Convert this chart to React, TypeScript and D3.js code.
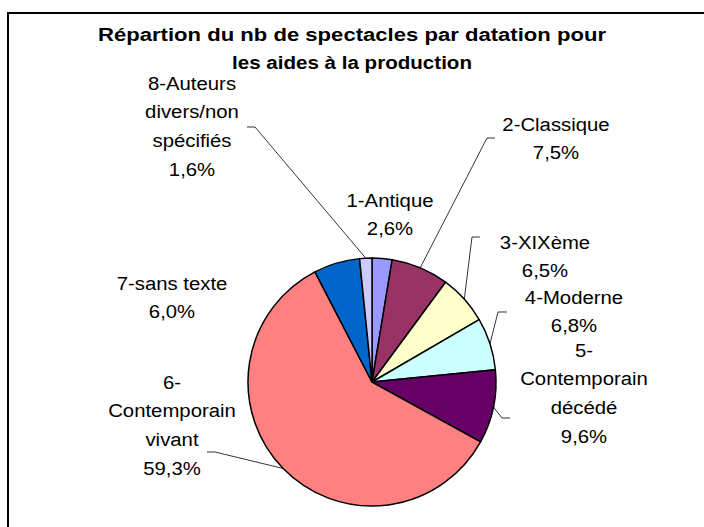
import React, { useEffect, useRef } from 'react';
import * as d3 from 'd3';

// data
const categories = [
  '1-Antique',
  '2-Classique',
  '3-XIXème',
  '4-Moderne',
  '5-Contemporain décédé',
  '6-Contemporain vivant',
  '7-sans texte',
  '8-Auteurs divers/non spécifiés',
];
const shares = [2.6, 7.5, 6.5, 6.8, 9.6, 59.3, 6.0, 1.6];
const labelLines = [
  ['1-Antique'],
  ['2-Classique'],
  ['3-XIXème'],
  ['4-Moderne'],
  ['5-', 'Contemporain', 'décédé'],
  ['6-', 'Contemporain', 'vivant'],
  ['7-sans texte'],
  ['8-Auteurs', 'divers/non', 'spécifiés'],
];
const colors = ['#9999FF', '#993366', '#FFFFCC', '#CCFFFF', '#660066', '#FF8080', '#0066CC', '#CCCCFF'];
const titleLines = ['Répartion du nb de spectacles par datation pour', 'les aides à la production'];

// label layout: centre x, centre y of first line, leader start/elbow (null = no leader)
const labelLayout = [
  { x: 390, y: 200, leader: null },
  { x: 556, y: 124, leader: [[495, 138], [487, 138]] },
  { x: 545, y: 242, leader: [[480, 237], [472, 237]] },
  { x: 574, y: 297, leader: [[507, 312], [498, 312]] },
  { x: 584, y: 350, leader: [[510, 418], [502, 418]] },
  { x: 172, y: 382, leader: [[207, 452], [215, 452]] },
  { x: 172, y: 283, leader: null },
  { x: 192, y: 83, leader: [[247, 127], [255, 127]] },
];

const W = 704;
const H = 527;
const cx = 372;
const cy = 382;
const R = 124;
const lineH = 28.7;
const fmt = (v: number) => v.toFixed(1).replace('.', ',') + '%';

const App = () => {
  const svgRef = useRef<SVGSVGElement>(null);

  useEffect(() => {
    const svg = d3.select(svgRef.current);
    svg.selectAll('*').remove();

    svg.append('rect').attr('width', W).attr('height', H).attr('fill', '#fff');
    svg.append('rect')
      .attr('x', 8).attr('y', 13)
      .attr('width', 740).attr('height', 560)
      .attr('fill', 'none')
      .attr('stroke', '#000')
      .attr('stroke-width', 2);

    // title
    const titleW = [508, 240];
    titleLines.forEach((t, i) => {
      svg.append('text')
        .attr('x', 352)
        .attr('y', 41 + i * 28)
        .attr('text-anchor', 'middle')
        .attr('font-family', 'Liberation Sans, Arial, sans-serif')
        .attr('font-weight', 'bold')
        .attr('font-size', 18)
        .attr('textLength', titleW[i])
        .attr('lengthAdjust', 'spacingAndGlyphs')
        .text(t);
    });

    const pie = d3.pie<number>().sort(null).value((d) => d);
    const arcs = pie(shares);
    const arc = d3.arc<d3.PieArcDatum<number>>().innerRadius(0).outerRadius(R);

    const g = svg.append('g').attr('transform', `translate(${cx},${cy})`);
    g.selectAll('path')
      .data(arcs)
      .enter()
      .append('path')
      .attr('d', arc)
      .attr('fill', (d, i) => colors[i])
      .attr('stroke', '#000')
      .attr('stroke-width', 1.5)
      .attr('stroke-linejoin', 'round');

    // leaders
    arcs.forEach((a, i) => {
      const lay = labelLayout[i];
      if (!lay.leader) return;
      const mid = (a.startAngle + a.endAngle) / 2;
      const ex = cx + R * Math.sin(mid);
      const ey = cy - R * Math.cos(mid);
      const pts = [...lay.leader, [ex, ey]];
      svg.append('path')
        .attr('d', d3.line()(pts as [number, number][]))
        .attr('fill', 'none')
        .attr('stroke', '#000')
        .attr('stroke-width', 0.8);
    });

    // labels
    arcs.forEach((a, i) => {
      const lay = labelLayout[i];
      const lines = [...labelLines[i], fmt(shares[i])];
      const lg = svg.append('g').attr('transform', `translate(${lay.x},${lay.y}) scale(1.13,1)`);
      lines.forEach((l, j) => {
        lg.append('text')
          .attr('x', 0)
          .attr('y', j * lineH + 6.5)
          .attr('text-anchor', 'middle')
          .attr('font-family', 'Liberation Sans, Arial, sans-serif')
          .attr('font-size', 18)
          .attr('fill', '#000')
          .text(l);
      });
    });
  }, []);

  return (
    <svg
      ref={svgRef}
      width={W}
      height={H}
      style={{ position: 'absolute', left: 0, top: 0 }}
    ></svg>
  );
};

export default App;
